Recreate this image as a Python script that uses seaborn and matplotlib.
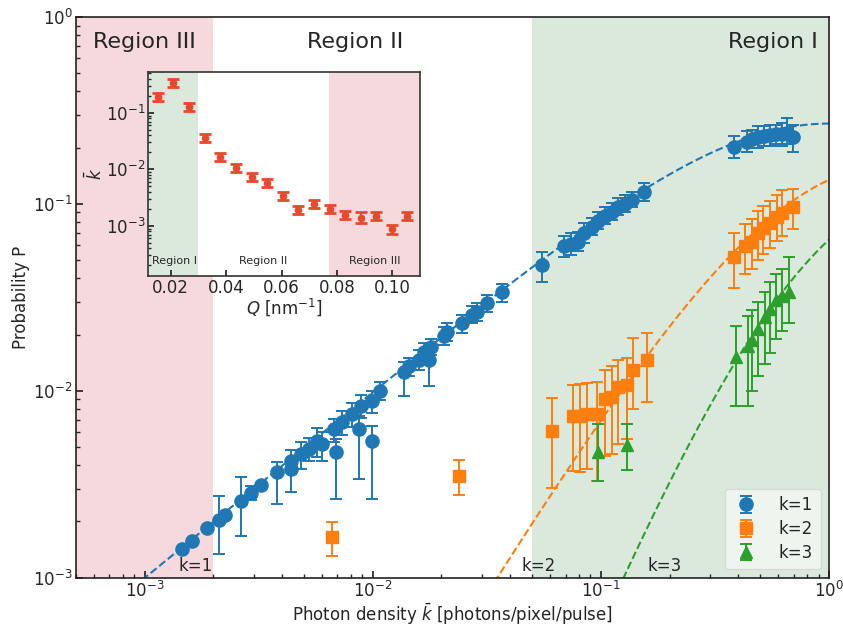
import numpy as np
import pandas as pd
import matplotlib
matplotlib.use("Agg")
import matplotlib.pyplot as plt
import seaborn as sns
from math import lgamma

sns.set_theme(style="ticks")
plt.rcParams['font.family'] = ['DejaVu Sans']
plt.rcParams['mathtext.fontset'] = 'dejavusans'

# ---------------- data: k = 1 ----------------
k1_kbar = [1.46e-3, 1.61e-3, 1.88e-3, 2.12e-3, 2.26e-3, 2.65e-3, 2.91e-3, 3.22e-3, 3.82e-3, 4.36e-3,
           4.39e-3, 4.82e-3, 5.23e-3, 5.67e-3, 5.97e-3, 6.74e-3, 6.87e-3, 7.31e-3, 8.09e-3, 8.68e-3,
           8.86e-3, 9.9e-3, 9.9e-3, 1.08e-2, 1.37e-2, 1.44e-2, 1.59e-2, 1.68e-2, 1.76e-2, 1.80e-2,
           2.05e-2, 2.12e-2, 2.46e-2, 2.73e-2, 2.87e-2, 3.17e-2, 3.70e-2, 5.54e-2, 6.86e-2, 7.43e-2,
           7.90e-2, 8.47e-2, 9.10e-2, 9.67e-2, 0.1038, 0.1114, 0.1184, 0.127, 0.1365, 0.154,
           0.384, 0.4375, 0.460, 0.489, 0.520, 0.552, 0.587, 0.624, 0.656, 0.698]
k1_P = [1.43e-3, 1.57e-3, 1.85e-3, 2.04e-3, 2.17e-3, 2.57e-3, 2.84e-3, 3.13e-3, 3.68e-3, 4.21e-3,
        3.81e-3, 4.59e-3, 4.88e-3, 5.38e-3, 5.19e-3, 6.24e-3, 4.70e-3, 6.80e-3, 7.50e-3, 6.24e-3,
        8.28e-3, 5.38e-3, 8.80e-3, 9.95e-3, 1.26e-2, 1.35e-2, 1.47e-2, 1.61e-2, 1.47e-2, 1.71e-2,
        1.96e-2, 2.06e-2, 2.30e-2, 2.56e-2, 2.63e-2, 2.94e-2, 3.36e-2, 4.69e-2, 5.92e-2, 6.14e-2,
        6.29e-2, 7.03e-2, 7.57e-2, 8.15e-2, 8.66e-2, 9.10e-2, 9.68e-2, 0.1004, 0.1054, 0.1164,
        0.202, 0.2153, 0.223, 0.229, 0.232, 0.2345, 0.237, 0.237, 0.240, 0.229]
k1_lo = [1.43e-3, 1.57e-3, 1.85e-3, 1.34e-3, 2.17e-3, 1.67e-3, 2.6e-3, 3.13e-3, 2.48e-3, 3.7e-3,
         2.87e-3, 3.8e-3, 4.2e-3, 4.4e-3, 4.2e-3, 5.3e-3, 2.64e-3, 5.8e-3, 6.4e-3, 3.37e-3,
         7.2e-3, 2.64e-3, 7.6e-3, 8.9e-3, 9.4e-3, 1.2e-2, 1.3e-2, 1.45e-2, 1.06e-2, 1.55e-2,
         1.75e-2, 1.85e-2, 2.05e-2, 2.3e-2, 2.35e-2, 2.65e-2, 3.0e-2, 3.80e-2, 5.2e-2, 5.3e-2,
         5.6e-2, 6.2e-2, 6.8e-2, 7.3e-2, 7.8e-2, 8.2e-2, 8.7e-2, 9.1e-2, 9.6e-2, 0.104,
         0.177, 0.19, 0.2, 0.2, 0.205, 0.205, 0.21, 0.205, 0.21, 0.19]
k1_hi = [1.43e-3, 1.57e-3, 1.85e-3, 2.74e-3, 2.17e-3, 3.46e-3, 3.1e-3, 3.13e-3, 4.16e-3, 4.8e-3,
         4.3e-3, 5.3e-3, 5.6e-3, 6.3e-3, 6.0e-3, 7.1e-3, 5.5e-3, 7.8e-3, 8.6e-3, 7.3e-3,
         9.5e-3, 6.5e-3, 1.0e-2, 1.12e-2, 1.42e-2, 1.5e-2, 1.65e-2, 1.8e-2, 1.65e-2, 1.9e-2,
         2.2e-2, 2.3e-2, 2.55e-2, 2.85e-2, 2.95e-2, 3.25e-2, 3.75e-2, 5.56e-2, 6.7e-2, 7.0e-2,
         7.1e-2, 7.9e-2, 8.4e-2, 9.1e-2, 9.6e-2, 0.101, 0.107, 0.111, 0.116, 0.130,
         0.232, 0.245, 0.25, 0.26, 0.26, 0.265, 0.265, 0.27, 0.29, 0.265]

# ---------------- data: k = 2 ----------------
k2_kbar = [6.6e-3, 2.39e-2, 6.13e-2, 7.51e-2, 8.06e-2, 8.65e-2, 9.58e-2, 0.1038, 0.1114, 0.1184,
           0.1297, 0.1378, 0.159, 0.384, 0.429, 0.459, 0.489, 0.514, 0.552, 0.590, 0.625, 0.698]
k2_P = [1.65e-3, 3.50e-3, 6.09e-3, 7.32e-3, 7.32e-3, 7.50e-3, 7.50e-3, 9.02e-3, 9.24e-3, 1.05e-2,
        1.08e-2, 1.30e-2, 1.46e-2, 5.23e-2, 5.92e-2, 6.29e-2, 7.03e-2, 7.47e-2, 7.94e-2, 8.55e-2,
        8.99e-2, 9.68e-2]
k2_lo = [1.31e-3, 2.77e-3, 3.02e-3, 3.72e-3, 3.7e-3, 3.8e-3, 3.29e-3, 4.48e-3, 4.6e-3, 5.2e-3,
         5.5e-3, 8.0e-3, 8.7e-3, 3.57e-2, 4.2e-2, 4.5e-2, 5.0e-2, 5.4e-2, 5.8e-2, 6.3e-2,
         6.7e-2, 7.3e-2]
k2_hi = [1.99e-3, 4.26e-3, 9.13e-3, 1.08e-2, 1.09e-2, 1.1e-2, 1.12e-2, 1.30e-2, 1.35e-2, 1.47e-2,
         1.5e-2, 1.91e-2, 2.03e-2, 7.03e-2, 7.8e-2, 8.3e-2, 9.2e-2, 9.8e-2, 0.104, 0.112,
         0.118, 0.12]

# ---------------- data: k = 3 ----------------
k3_kbar = [9.67e-2, 0.1297, 0.392, 0.442, 0.459, 0.489, 0.524, 0.552, 0.587, 0.624, 0.67]
k3_P = [4.70e-3, 5.13e-3, 1.51e-2, 1.73e-2, 1.88e-2, 2.13e-2, 2.47e-2, 2.73e-2, 3.08e-2, 3.20e-2, 3.40e-2]
k3_lo = [3.29e-3, 3.77e-3, 8.28e-3, 8.28e-3, 1.0e-2, 1.2e-2, 1.4e-2, 1.6e-2, 1.9e-2, 2.1e-2, 2.3e-2]
k3_hi = [6.64e-3, 6.64e-3, 2.21e-2, 2.5e-2, 2.7e-2, 3.0e-2, 3.4e-2, 3.8e-2, 4.2e-2, 4.5e-2, 5.23e-2]

# ---------------- inset data ----------------
inset_Q = [0.0155, 0.0209, 0.0267, 0.0324, 0.0378, 0.0436, 0.0493, 0.0547, 0.0605, 0.0661,
           0.0716, 0.0774, 0.0830, 0.0885, 0.0941, 0.0999, 0.1053]
inset_kbar = [0.19, 0.336, 0.129, 0.0365, 0.0169, 0.0105, 0.00728, 0.0057, 0.0034, 0.00192,
              0.00242, 0.00198, 0.00157, 0.00141, 0.00152, 0.00087, 0.00152]
inset_lo = [0.16, 0.285, 0.109, 0.031, 0.0143, 0.0089, 0.0062, 0.0048, 0.0029, 0.00163,
            0.00205, 0.00168, 0.00131, 0.00114, 0.00129, 0.00071, 0.00129]
inset_hi = [0.225, 0.395, 0.152, 0.043, 0.0199, 0.0124, 0.0086, 0.0067, 0.0040, 0.00227,
            0.00285, 0.00234, 0.00185, 0.00175, 0.00179, 0.00106, 0.00179]

# fitted number of modes for the negative-binomial model curves
M_MODES = 1.3

C_BLUE, C_ORANGE, C_GREEN = '#1f77b4', '#ff7f0e', '#2ca02c'
PINK, GREEN_BG = '#f6d9dd', '#dbe9dc'


def negbin(kbar, k, M):
    coef = np.exp(lgamma(k + M) - lgamma(M) - lgamma(k + 1))
    return coef * (kbar / (M + kbar)) ** k * (M / (M + kbar)) ** M


fig = plt.figure(figsize=(8.43, 6.28), dpi=100)
ax = fig.add_axes([0.0902, 0.080, 0.8932, 0.8929])
ax.set_xscale('log')
ax.set_yscale('log')
ax.axvspan(5e-4, 2e-3, color=PINK, lw=0, zorder=0)
ax.axvspan(0.05, 1, color=GREEN_BG, lw=0, zorder=0)

kk = np.logspace(np.log10(5e-4), 0, 500)
model = pd.concat([pd.DataFrame({'kbar': kk, 'P': negbin(kk, k, M_MODES), 'k': str(k)}) for k in (1, 2, 3)])
sns.lineplot(data=model, x='kbar', y='P', hue='k',
             palette={'1': C_BLUE, '2': C_ORANGE, '3': C_GREEN},
             linestyle='--', lw=1.5, legend=False, ax=ax, zorder=2)

series = [
    (k1_kbar, k1_P, k1_lo, k1_hi, C_BLUE, 'o', 9.5, 'k=1'),
    (k2_kbar, k2_P, k2_lo, k2_hi, C_ORANGE, 's', 9, 'k=2'),
    (k3_kbar, k3_P, k3_lo, k3_hi, C_GREEN, '^', 9, 'k=3'),
]
for x, p, lo, hi, c, m, ms, lab in series:
    x = np.asarray(x); p = np.asarray(p); lo = np.asarray(lo); hi = np.asarray(hi)
    ax.errorbar(x, p, yerr=[p - lo, hi - p], fmt=m, color=c, ms=ms, capsize=4,
                elinewidth=1.4, capthick=1.4, label=lab, zorder=3)

ax.set_xlim(5e-4, 1)
ax.set_ylim(1e-3, 1)
ax.set_xlabel(r'Photon density $\bar{k}$ [photons/pixel/pulse]', fontsize=12, labelpad=0)
ax.set_ylabel('Probability P', fontsize=12, labelpad=2)
ax.tick_params(which='both', direction='in', labelsize=12, top=False, right=False, pad=2.5)
ax.tick_params(which='major', length=5)
ax.tick_params(which='minor', length=3)
for s in ax.spines.values():
    s.set_linewidth(1.2)
    s.set_color('#222222')

ax.text(1.0e-3, 0.955, 'Region III', transform=ax.get_xaxis_transform(), ha='center', va='center', fontsize=16)
ax.text(8.4e-3, 0.955, 'Region II', transform=ax.get_xaxis_transform(), ha='center', va='center', fontsize=16)
ax.text(0.57, 0.955, 'Region I', transform=ax.get_xaxis_transform(), ha='center', va='center', fontsize=16)
ax.text(1.40e-3, 1.04e-3, 'k=1', ha='left', va='bottom', fontsize=12)
ax.text(4.48e-2, 1.04e-3, 'k=2', ha='left', va='bottom', fontsize=12)
ax.text(0.160, 1.04e-3, 'k=3', ha='left', va='bottom', fontsize=12)

leg = ax.legend(loc='lower right', fontsize=12, framealpha=0.55, handlelength=1.6,
                handletextpad=1.2, borderpad=0.45, labelspacing=0.35)
leg.get_frame().set_edgecolor('#cccccc')

# ---------------- inset ----------------
axin = fig.add_axes([0.1756, 0.5605, 0.3227, 0.3248])
axin.set_facecolor('white')
axin.set_yscale('log')
axin.axvspan(0.0118, 0.030, color=GREEN_BG, lw=0, zorder=0)
axin.axvspan(0.077, 0.110, color=PINK, lw=0, zorder=0)
iq = np.asarray(inset_Q); ik = np.asarray(inset_kbar)
ilo = np.asarray(inset_lo); ihi = np.asarray(inset_hi)
axin.errorbar(iq, ik, yerr=[ik - ilo, ihi - ik], fmt='o', color='#e8492b', ms=4.5,
              capsize=4, elinewidth=1.5, capthick=2, zorder=3)
axin.set_xlim(0.0118, 0.110)
axin.set_ylim(1.3e-4, 0.53)
axin.set_xticks([0.02, 0.04, 0.06, 0.08, 0.10])
axin.set_xticklabels(['0.02', '0.04', '0.06', '0.08', '0.10'])
axin.tick_params(which='both', direction='in', labelsize=12, top=False, right=False, pad=2)
axin.tick_params(which='major', length=4)
axin.tick_params(which='minor', length=2)
axin.set_xlabel(r'$Q$ [nm$^{-1}$]', fontsize=12, labelpad=0)
axin.set_ylabel(r'$\bar{k}$', fontsize=12, labelpad=0)
for s in axin.spines.values():
    s.set_linewidth(1.2)
    s.set_color('#333333')
axin.text(0.0212, 0.074, 'Region I', transform=axin.get_xaxis_transform(), ha='center', va='center', fontsize=8)
axin.text(0.0535, 0.074, 'Region II', transform=axin.get_xaxis_transform(), ha='center', va='center', fontsize=8)
axin.text(0.0935, 0.074, 'Region III', transform=axin.get_xaxis_transform(), ha='center', va='center', fontsize=8)

fig.savefig('out.png', dpi=100)
